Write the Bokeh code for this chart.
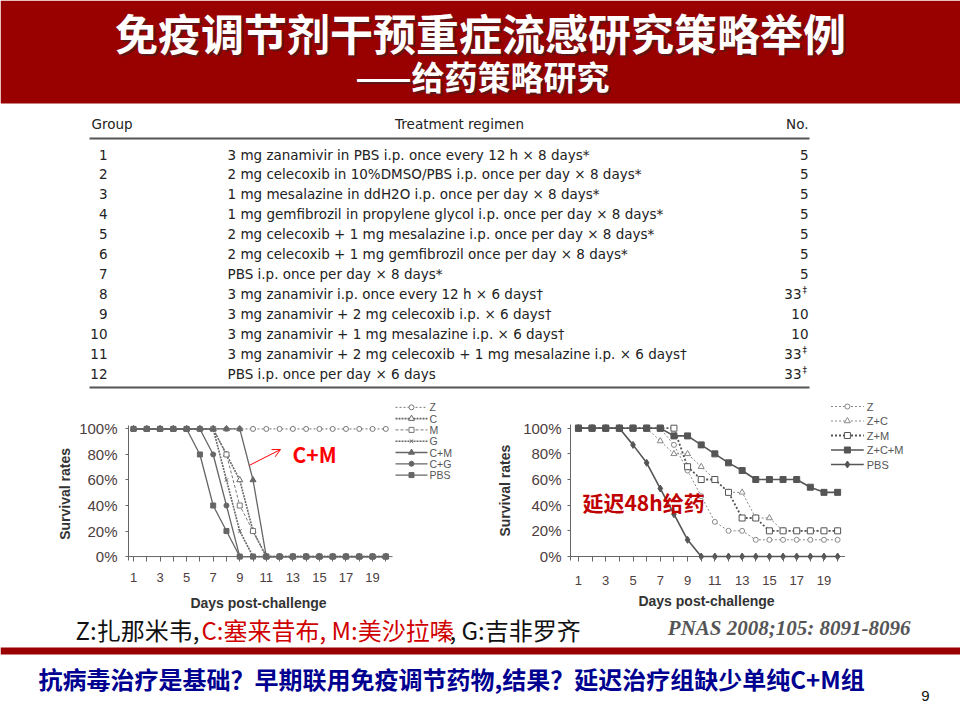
import math
from bokeh.plotting import figure
from bokeh.models import Range1d, FixedTicker, Arrow, OpenHead, ColumnDataSource
from bokeh.layouts import column, row
from bokeh.embed import file_html
from bokeh.resources import INLINE
from bokeh.core.properties import value

# ---------------- data ----------------
title_main = "免疫调节剂干预重症流感研究策略举例"
title_sub = "——给药策略研究"

table_columns = ["Group", "Treatment regimen", "No."]
table_groups = ["1", "2", "3", "4", "5", "6", "7", "8", "9", "10", "11", "12"]
table_regimens = [
    "3 mg zanamivir in PBS i.p. once every 12 h × 8 days*",
    "2 mg celecoxib in 10%DMSO/PBS i.p. once per day × 8 days*",
    "1 mg mesalazine in ddH2O i.p. once per day × 8 days*",
    "1 mg gemfibrozil in propylene glycol i.p. once per day × 8 days*",
    "2 mg celecoxib + 1 mg mesalazine i.p. once per day × 8 days*",
    "2 mg celecoxib + 1 mg gemfibrozil once per day × 8 days*",
    "PBS i.p. once per day × 8 days*",
    "3 mg zanamivir i.p. once every 12 h × 6 days†",
    "3 mg zanamivir + 2 mg celecoxib i.p. × 6 days†",
    "3 mg zanamivir + 1 mg mesalazine i.p. × 6 days†",
    "3 mg zanamivir + 2 mg celecoxib + 1 mg mesalazine i.p. × 6 days†",
    "PBS i.p. once per day × 6 days",
]
table_counts = ["5", "5", "5", "5", "5", "5", "5", "33", "10", "10", "33", "33"]
table_count_marks = ["", "", "", "", "", "", "", "‡", "", "", "‡", "‡"]

days = [1, 2, 3, 4, 5, 6, 7, 8, 9, 10, 11, 12, 13, 14, 15, 16, 17, 18, 19, 20]
x_tick_labels = ["1", "", "3", "", "5", "", "7", "", "9", "", "11", "", "13", "", "15", "", "17", "", "19", ""]
y_ticks = [0, 20, 40, 60, 80, 100]
y_tick_labels = ["0%", "20%", "40%", "60%", "80%", "100%"]
x_axis_title = "Days post-challenge"
y_axis_title = "Survival rates"

# early treatment (left chart)
early_names = ["Z", "C", "M", "G", "C+M", "C+G", "PBS"]
early_Z = [100, 100, 100, 100, 100, 100, 100, 100, 100, 100, 100, 100, 100, 100, 100, 100, 100, 100, 100, 100]
early_C = [100, 100, 100, 100, 100, 100, 100, 80, 60, 20, 0, 0, 0, 0, 0, 0, 0, 0, 0, 0]
early_M = [100, 100, 100, 100, 100, 100, 100, 80, 40, 20, 0, 0, 0, 0, 0, 0, 0, 0, 0, 0]
early_G = [100, 100, 100, 100, 100, 100, 100, 60, 20, 0, 0, 0, 0, 0, 0, 0, 0, 0, 0, 0]
early_CM = [100, 100, 100, 100, 100, 100, 100, 100, 100, 60, 0, 0, 0, 0, 0, 0, 0, 0, 0, 0]
early_CG = [100, 100, 100, 100, 100, 100, 80, 40, 0, 0, 0, 0, 0, 0, 0, 0, 0, 0, 0, 0]
early_PBS = [100, 100, 100, 100, 100, 80, 40, 20, 0, 0, 0, 0, 0, 0, 0, 0, 0, 0, 0, 0]

# delayed (48 h) treatment (right chart)
delayed_names = ["Z", "Z+C", "Z+M", "Z+C+M", "PBS"]
delayed_Z = [100, 100, 100, 100, 100, 100, 100, 87, 67, 47, 27, 20, 20, 13, 13, 13, 13, 13, 13, 13]
delayed_ZC = [100, 100, 100, 100, 100, 100, 90, 80, 80, 70, 60, 50, 50, 30, 30, 20, 20, 20, 20, 20]
delayed_ZM = [100, 100, 100, 100, 100, 100, 100, 100, 70, 60, 60, 50, 30, 30, 20, 20, 20, 20, 20, 20]
delayed_ZCM = [100, 100, 100, 100, 100, 100, 100, 94, 94, 87, 80, 73, 67, 60, 60, 60, 60, 54, 50, 50]
delayed_PBS = [100, 100, 100, 100, 87, 73, 53, 33, 13, 0, 0, 0, 0, 0, 0, 0, 0, 0, 0, 0]

early_note = "C+M"
delayed_note = "延迟48h给药"
footnote_parts = ["Z:扎那米韦, ", "C:塞来昔布, M:美沙拉嗪", ", G:吉非罗齐"]
citation = "PNAS 2008;105: 8091-8096"
conclusion = "抗病毒治疗是基础？早期联用免疫调节药物,结果？延迟治疗组缺少单纯C+M组"
page_number = "9"

# ---------------- styles ----------------
CJK = value("Noto Sans CJK SC")
SANS = value("Liberation Sans")
SANS_NAME = "Liberation Sans"
SERIF = value("Liberation Serif")
TABLE_FONT = value("DejaVu Sans")
RED_BAND = "#990000"
GRAY = "#666666"
DARK = "#555555"


def canvas(width, height, x0, x1, ytop, ybottom):
    fig = figure(width=width, height=height, x_range=Range1d(x0, x1), y_range=Range1d(ybottom, ytop),
                 x_axis_type=None, y_axis_type=None, toolbar_location=None, output_backend="svg",
                 min_border_left=0, min_border_right=0, min_border_top=0, min_border_bottom=0)
    fig.outline_line_color = None
    fig.grid.visible = False
    return fig


# ---------------- top: title + table (page y 0..395) ----------------
top = canvas(960, 395, 0, 960, 0, 395)
top.quad(left=[0], right=[960], top=[0], bottom=[103], fill_color=RED_BAND, line_color=None)
top.text(x=[482], y=[33.5], text=[title_main], text_font=CJK, text_font_style="bold",
         text_font_size="43px", text_color="#2a2a2a", text_alpha=0.55,
         text_align="center", text_baseline="middle")
top.text(x=[480], y=[31.5], text=[title_main], text_font=CJK, text_font_style="bold",
         text_font_size="43px", text_color="white", text_align="center", text_baseline="middle")
top.text(x=[484], y=[77], text=[title_sub], text_font=CJK, text_font_style="bold",
         text_font_size="33px", text_color="#2a2a2a", text_alpha=0.55,
         text_align="center", text_baseline="middle")
top.text(x=[482], y=[75], text=[title_sub], text_font=CJK, text_font_style="bold",
         text_font_size="33px", text_color="white", text_align="center", text_baseline="middle")

tf = dict(text_font=TABLE_FONT, text_font_size="13.5px", text_color="#222222", text_baseline="middle")
top.text(x=[91], y=[123], text=[table_columns[0]], text_align="left", **tf)
top.text(x=[459], y=[123], text=[table_columns[1]], text_align="center", **tf)
top.text(x=[808], y=[123], text=[table_columns[2]], text_align="right", **tf)
top.segment(x0=[89], y0=[138], x1=[809], y1=[138], line_color=DARK, line_width=2)
row_y = [154 + 19.93 * i for i in range(len(table_groups))]
top.text(x=[107] * len(table_groups), y=row_y, text=table_groups, text_align="right", **tf)
top.text(x=[227] * len(table_groups), y=row_y, text=table_regimens, text_align="left", **tf)
count_x = [808 if m == "" else 801 for m in table_count_marks]
top.text(x=count_x, y=row_y, text=table_counts, text_align="right", **tf)
mark_y = [y - 4 for y, m in zip(row_y, table_count_marks) if m]
mark_t = [m for m in table_count_marks if m]
top.text(x=[802] * len(mark_t), y=mark_y, text=mark_t, text_align="left", text_font=TABLE_FONT,
         text_font_size="9px", text_color="#222222", text_baseline="middle")
top.segment(x0=[89], y0=[387], x1=[809], y1=[387], line_color=DARK, line_width=2)


# ---------------- charts (page y 395..592) ----------------
ROW_TOP, ROW_BOTTOM = 395, 592


def make_chart(page_x0, page_x1, frame_l, frame_r, frame_t, frame_b, px_day, px_pct, day1_px, zero_px,
               xl_standoff, yl_standoff):
    x_start = 1 - (day1_px - frame_l) / px_day
    x_end = x_start + (frame_r - frame_l) / px_day
    y_start = -(frame_b - zero_px) / px_pct
    y_end = y_start + (frame_b - frame_t) / px_pct
    p = figure(width=page_x1 - page_x0, height=ROW_BOTTOM - ROW_TOP,
               x_range=Range1d(x_start, x_end), y_range=Range1d(y_start, y_end),
               toolbar_location=None, output_backend="svg",
               min_border_left=frame_l - page_x0, min_border_right=page_x1 - frame_r,
               min_border_top=frame_t - ROW_TOP, min_border_bottom=ROW_BOTTOM - frame_b)
    p.outline_line_color = None
    p.grid.visible = False
    p.xaxis.ticker = FixedTicker(ticks=days)
    p.xaxis.major_label_overrides = dict(zip(days, x_tick_labels))
    p.yaxis.ticker = FixedTicker(ticks=y_ticks)
    p.yaxis.major_label_overrides = dict(zip(y_ticks, y_tick_labels))
    p.yaxis.bounds = (y_start, 103)
    p.axis.minor_tick_line_color = None
    p.axis.major_tick_line_color = GRAY
    p.xaxis.axis_line_color = None
    p.yaxis.axis_line_color = GRAY
    p.xaxis.major_tick_in = 4
    p.xaxis.major_tick_out = 1
    p.yaxis.major_tick_in = 0
    p.yaxis.major_tick_out = 3
    p.xaxis.major_label_text_font_size = "13px"
    p.yaxis.major_label_text_font_size = "15px"
    p.axis.major_label_text_font = SANS_NAME
    p.axis.major_label_text_color = "#4d3d3d"
    p.xaxis.major_label_standoff = xl_standoff
    p.yaxis.major_label_standoff = yl_standoff

    def dx(px):
        return x_start + (px - frame_l) / px_day

    def dy(py):
        return y_start + (frame_b - py) / px_pct

    return p, dx, dy, x_start


def add_series(p, values, dash, lw, marker, size, filled, color):
    src = ColumnDataSource(dict(x=days, y=values))
    p.line("x", "y", source=src, line_color=color, line_width=lw, line_dash=dash)
    p.scatter("x", "y", source=src, marker=marker, size=size,
              fill_color=color if filled else "white", line_color=color, line_width=1)


def draw_legend(p, dx, dy, names, styles, rows_y, gx0, gx1, tx, font_size):
    for name, st, py in zip(names, styles, rows_y):
        dash, lw, marker, size, filled, color = st
        p.line(x=[dx(gx0), dx(gx1)], y=[dy(py), dy(py)], line_color=color, line_width=lw, line_dash=dash)
        p.scatter(x=[dx((gx0 + gx1) / 2)], y=[dy(py)], marker=marker, size=size,
                  fill_color=color if filled else "white", line_color=color, line_width=1)
        p.text(x=[dx(tx)], y=[dy(py)], text=[name], text_font=SANS, text_font_size=font_size,
               text_color=DARK, text_align="left", text_baseline="middle")


# left chart: axis x 128..392, frame to 470 (legend inside), 0% at 559, 100% at 429
L_PX_DAY, L_PX_PCT = 13.28, 1.3
left, ldx, ldy, lx0 = make_chart(74, 478, 128, 470, 398, 563, L_PX_DAY, L_PX_PCT, 133, 559, 11, 8)
left.xaxis.bounds = (lx0, ldx(392))
left.segment(x0=[lx0], y0=[0], x1=[ldx(392)], y1=[0], line_color=GRAY, line_width=1)
early_series = [early_Z, early_C, early_M, early_G, early_CM, early_CG, early_PBS]
early_styles = [("2 2", 1, "circle", 5, False, "#777777"),
                ("2 1", 1.6, "triangle", 6, False, "#666666"),
                ("3 2", 1, "square", 5, False, "#777777"),
                ("2 1", 1.6, "x", 5, False, "#666666"),
                ("solid", 1.3, "triangle", 6, True, "#666666"),
                ("solid", 1.3, "circle", 5, True, "#666666"),
                ("solid", 1.3, "square", 5, True, "#666666")]
for vals, st in zip(early_series, early_styles):
    add_series(left, vals, *st)
draw_legend(left, ldx, ldy, early_names, early_styles,
            [407 + 11.5 * i for i in range(len(early_names))], 395, 427, 429, "10.5px")
left.text(x=[ldx(292)], y=[ldy(455)], text=[early_note],
          text_font=CJK, text_font_style="bold", text_font_size="21px", text_color="#ff0000",
          text_align="left", text_baseline="middle")
left.add_layout(Arrow(end=OpenHead(size=8, line_color="#ff0000", line_width=1),
                      x_start=ldx(249), y_start=ldy(466), x_end=ldx(280), y_end=ldy(450),
                      line_color="#ff0000", line_width=1))

# right chart: axis x 568..844, frame to 912 (legend inside), 0% at 556, 100% at 428
R_PX_DAY, R_PX_PCT = 13.72, 1.283
right, rdx, rdy, rx0 = make_chart(520, 960, 568, 912, 398, 560, R_PX_DAY, R_PX_PCT, 576, 556, 14, 6)
right.xaxis.bounds = (rx0, rdx(844))
right.segment(x0=[rx0], y0=[0], x1=[rdx(844)], y1=[0], line_color=GRAY, line_width=1)
delayed_series = [delayed_Z, delayed_ZC, delayed_ZM, delayed_ZCM, delayed_PBS]
delayed_styles = [("2 2", 1, "circle", 5, False, "#888888"),
                  ("2 2", 1, "triangle", 6, False, "#888888"),
                  ("2 2", 1.8, "square", 6, False, "#555555"),
                  ("solid", 1.6, "square", 6, True, "#555555"),
                  ("solid", 1.6, "diamond", 7, True, "#555555")]
for vals, st in zip(delayed_series, delayed_styles):
    add_series(right, vals, *st)
draw_legend(right, rdx, rdy, delayed_names, delayed_styles,
            [406 + 14.5 * i for i in range(len(delayed_names))], 830, 863, 866, "11px")
right.text(x=[rdx(580)], y=[rdy(501)], text=[delayed_note],
           text_font=CJK, text_font_style="bold", text_font_size="21px", text_color="#c00000",
           text_align="left", text_baseline="middle")

# y-axis titles
axis_title_style = dict(text_font=SANS, text_font_style="bold", text_font_size="14px",
                        text_color="#333333", text_align="center", text_baseline="middle")
ylab_left = canvas(74, ROW_BOTTOM - ROW_TOP, 0, 74, ROW_TOP, ROW_BOTTOM)
ylab_left.text(x=[64], y=[511], text=[y_axis_title], angle=math.pi / 2, **axis_title_style)
ylab_right = canvas(42, ROW_BOTTOM - ROW_TOP, 478, 520, ROW_TOP, ROW_BOTTOM)
ylab_right.text(x=[504], y=[507], text=[y_axis_title], angle=math.pi / 2, **axis_title_style)

# ---------------- bottom (page y 592..720) ----------------
bottom = canvas(960, 720 - ROW_BOTTOM, 0, 960, ROW_BOTTOM, 720)
bottom.text(x=[258, 706], y=[602, 600], text=[x_axis_title, x_axis_title], **axis_title_style)
foot_x = [75, 201, 449]
foot_colors = ["#111111", "#d00000", "#111111"]
for fx, ft, fc in zip(foot_x, footnote_parts, foot_colors):
    bottom.text(x=[fx], y=[629], text=[ft], text_font=CJK, text_font_size="24px", text_color=fc,
                text_align="left", text_baseline="middle")
bottom.text(x=[910], y=[627], text=[citation], text_font=SERIF, text_font_style="bold italic",
            text_font_size="21px", text_color="#555555", text_align="right", text_baseline="middle")
bottom.quad(left=[0], right=[960], top=[647], bottom=[654], fill_color=RED_BAND, line_color=None)
bottom.text(x=[38], y=[678], text=[conclusion], text_font=CJK, text_font_style="bold",
            text_font_size="24px", text_color="#000090", text_align="left", text_baseline="middle")
bottom.text(x=[925], y=[695], text=[page_number], text_font=SANS, text_font_size="15px",
            text_color="#111111", text_align="center", text_baseline="middle")

layout = column(top, row(ylab_left, left, ylab_right, right), bottom)
open("out.html", "w").write(file_html(layout, INLINE))
